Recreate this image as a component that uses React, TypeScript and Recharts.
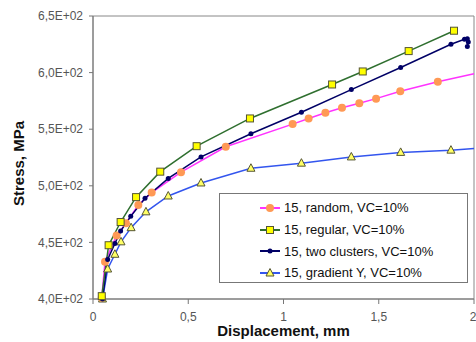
import { Legend, Line, LineChart, ReferenceArea, XAxis, YAxis } from "recharts";

const xTicks = [0, 0.5, 1, 1.5, 2];
const xTickLabels = ["0", "0,5", "1", "1,5", "2"];
const yTicks = [400, 450, 500, 550, 600, 650];
const yTickLabels = ["4,0E+02", "4,5E+02", "5,0E+02", "5,5E+02", "6,0E+02", "6,5E+02"];

const randomX = [0.046, 0.063, 0.124, 0.173, 0.238, 0.308, 0.462, 0.697, 1.048, 1.132, 1.22, 1.307, 1.398, 1.486, 1.613, 1.81, 2.0];
const randomY = [401, 433, 456, 467, 483, 494, 512, 534.5, 554.5, 559.5, 564.5, 569, 573, 577, 583.5, 592, 599];

const regularX = [0.046, 0.082, 0.145, 0.226, 0.353, 0.544, 0.824, 1.255, 1.416, 1.657, 1.895];
const regularY = [402.5, 447.5, 468, 490, 512.5, 535, 559.5, 589.5, 601, 619, 637];

const clustersX = [0.05, 0.077, 0.115, 0.145, 0.198, 0.273, 0.395, 0.567, 0.829, 1.094, 1.356, 1.615, 1.879, 1.95, 1.965, 1.97, 1.965];
const clustersY = [400, 435, 449, 460, 473, 489, 506.5, 525.5, 546, 565, 585, 604.5, 625, 629.5, 630, 627, 623];

const gradientX = [0.05, 0.077, 0.115, 0.147, 0.2, 0.278, 0.395, 0.567, 0.829, 1.094, 1.356, 1.615, 1.879, 2.0];
const gradientY = [400, 426.5, 439.5, 450.5, 463, 477, 491, 502.5, 515.5, 520, 525.5, 529.5, 531.5, 533];

const seriesNames = [
  "15, random, VC=10%",
  "15, regular, VC=10%",
  "15, two clusters, VC=10%",
  "15, gradient Y, VC=10%",
];

const toRows = (xs: number[], ys: number[]) => xs.map((x, i) => ({ x, y: ys[i] }));

const font = "'Liberation Sans', Arial, sans-serif";

const marker = (kind: string, cx: number, cy: number, key?: any) => {
  if (kind === "square")
    return <rect key={key} x={cx - 3.5} y={cy - 3.5} width={7} height={7} fill="#ffff00" stroke="#555533" strokeWidth={1} />;
  if (kind === "circle")
    return <circle key={key} cx={cx} cy={cy} r={4} fill="#ff9955" stroke="none" />;
  if (kind === "dot")
    return <circle key={key} cx={cx} cy={cy} r={2.5} fill="#000066" stroke="none" />;
  return (
    <polygon
      key={key}
      points={`${cx},${cy - 4.5} ${cx - 4},${cy + 3} ${cx + 4},${cy + 3}`}
      fill="#ffff66"
      stroke="#555533"
      strokeWidth={1}
    />
  );
};

// no marker on the point that runs into the right frame
const dotFn = (kind: string, lastHidden: boolean, count: number) => (p: any) => {
  if (lastHidden && p.index === count - 1) return <g key={p.key} />;
  return marker(kind, p.cx, p.cy, p.key);
};

const legendItems = [
  { name: seriesNames[0], color: "#ff33ff", kind: "circle" },
  { name: seriesNames[1], color: "#2f6f2f", kind: "square" },
  { name: seriesNames[2], color: "#000066", kind: "dot" },
  { name: seriesNames[3], color: "#3355ee", kind: "triangle" },
];

const LegendBox = () => (
  <div style={{ paddingTop: 3 }}>
    {legendItems.map((it) => (
      <div key={it.name} style={{ display: "flex", alignItems: "center", height: 21.7 }}>
        <svg width={64} height={12} style={{ flex: "none" }}>
          <line x1={40} x2={60} y1={6} y2={6} stroke={it.color} strokeWidth={2} />
          {marker(it.kind, 50, 6)}
        </svg>
        <span style={{ fontFamily: font, fontSize: 13, color: "#111" }}>{it.name}</span>
      </div>
    ))}
  </div>
);

export default function App() {
  return (
    <div style={{ position: "absolute", left: 0, top: 0, background: "#fff" }}>
      <LineChart width={476} height={342} margin={{ top: 16, right: 2, left: 0, bottom: 0 }}>
        <XAxis
          type="number"
          dataKey="x"
          domain={[0, 2]}
          ticks={xTicks}
          tickFormatter={(v: number) => xTickLabels[xTicks.indexOf(v)]}
          height={43}
          tickSize={5}
          tickMargin={8}
          stroke="#777"
          tick={{ fill: "#555", fontSize: 12, fontFamily: font }}
          label={{
            content: (p: any) => (
              <text
                x={p.viewBox.x + p.viewBox.width / 2}
                y={p.viewBox.y + 37}
                textAnchor="middle"
                fontFamily={font}
                fontSize={15}
                fontWeight="bold"
                fill="#111"
              >
                Displacement, mm
              </text>
            ),
          }}
        />
        <YAxis
          type="number"
          dataKey="y"
          domain={[400, 650]}
          ticks={yTicks}
          tickFormatter={(v: number) => yTickLabels[yTicks.indexOf(v)]}
          width={93}
          tickSize={4}
          tickMargin={6}
          stroke="#777"
          tick={{ fill: "#555", fontSize: 12, fontFamily: font }}
          label={{
            content: (p: any) => {
              const cx = 18;
              const cy = p.viewBox.y + p.viewBox.height / 2 + 6;
              return (
                <text
                  x={cx}
                  y={cy}
                  transform={`rotate(-90 ${cx} ${cy})`}
                  textAnchor="middle"
                  dominantBaseline="central"
                  fontFamily={font}
                  fontSize={15}
                  fontWeight="bold"
                  fill="#111"
                >
                  Stress, MPa
                </text>
              );
            },
          }}
        />
        <ReferenceArea x1={0} x2={2} y1={400} y2={650} fill="none" stroke="#888" strokeWidth={1} />
        <Line
          data={toRows(gradientX, gradientY)}
          dataKey="y"
          name={seriesNames[3]}
          type="linear"
          stroke="#3355ee"
          strokeWidth={1.5}
          dot={dotFn("triangle", true, gradientX.length)}
          isAnimationActive={false}
        />
        <Line
          data={toRows(randomX, randomY)}
          dataKey="y"
          name={seriesNames[0]}
          type="linear"
          stroke="#ff33ff"
          strokeWidth={1.5}
          dot={dotFn("circle", true, randomX.length)}
          isAnimationActive={false}
        />
        <Line
          data={toRows(clustersX, clustersY)}
          dataKey="y"
          name={seriesNames[2]}
          type="linear"
          stroke="#000066"
          strokeWidth={1.5}
          dot={dotFn("dot", false, clustersX.length)}
          isAnimationActive={false}
        />
        <Line
          data={toRows(regularX, regularY)}
          dataKey="y"
          name={seriesNames[1]}
          type="linear"
          stroke="#2f6f2f"
          strokeWidth={1.5}
          dot={dotFn("square", false, regularX.length)}
          isAnimationActive={false}
        />
        <Legend
          layout="vertical"
          align="center"
          verticalAlign="middle"
          content={<LegendBox />}
          wrapperStyle={{
            left: 219,
            top: 193,
            width: 249,
            height: 90,
            border: "1px solid #777",
            background: "#fff",
            boxSizing: "border-box",
          }}
        />
      </LineChart>
    </div>
  );
}
